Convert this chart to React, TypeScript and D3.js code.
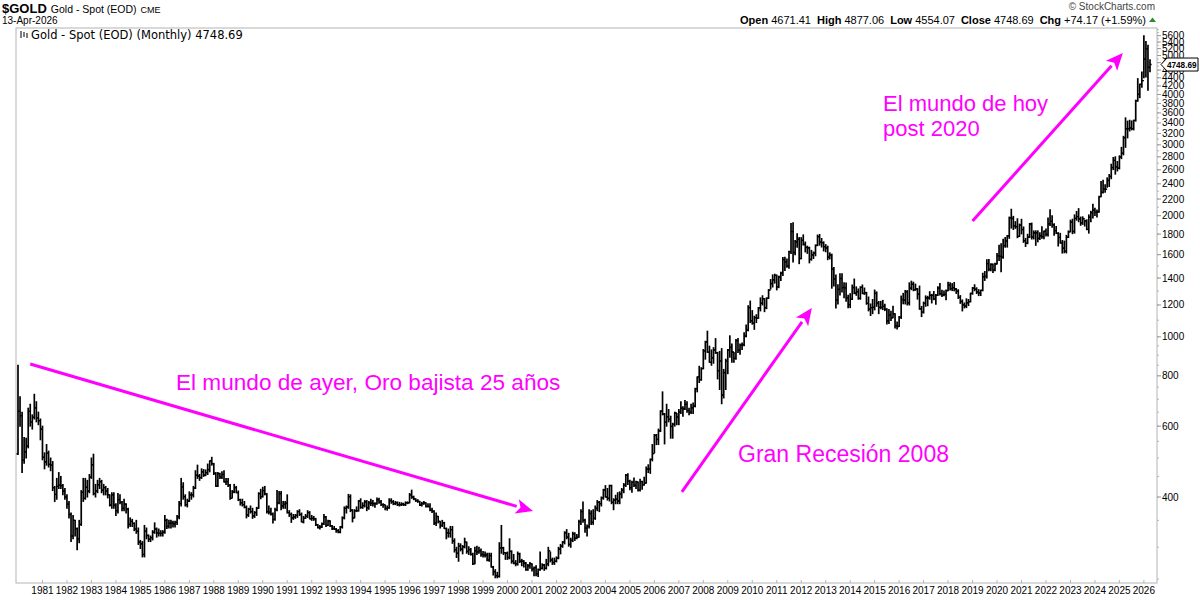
import React, { useEffect, useRef } from "react";
import * as d3 from "d3";

// monthly [high, low, close], one row per year
const bars1980s: [number, number, number][] = [
  // 1980
  [850, 510, 653], [710, 600, 637], [650, 460, 494], [562, 485, 518], [560, 500, 535], [665, 530, 653],
  [680, 600, 614], [640, 590, 631], [720, 625, 666], [690, 615, 629], [650, 605, 619], [625, 555, 590],
  // 1981
  [600, 495, 502], [515, 470, 489], [540, 480, 514], [520, 475, 482], [500, 465, 480], [490, 415, 422],
  [425, 390, 406], [445, 395, 425], [460, 420, 428], [450, 420, 427], [430, 405, 414], [420, 395, 400],
  // 1982
  [405, 375, 384], [390, 355, 362], [365, 310, 320], [360, 315, 350], [350, 320, 334], [335, 296, 315],
  [350, 308, 342], [415, 340, 411], [445, 390, 397], [445, 395, 423], [440, 400, 414], [455, 410, 448],
  // 1983
  [500, 445, 481], [511, 405, 408], [430, 400, 414], [440, 410, 429], [445, 420, 437], [440, 410, 416],
  [430, 405, 422], [425, 405, 414], [420, 398, 405], [405, 380, 382], [410, 375, 405], [410, 375, 382],
  // 1984
  [385, 360, 370], [408, 365, 394], [405, 385, 388], [390, 370, 375], [395, 370, 384], [385, 365, 373],
  [375, 335, 342], [355, 338, 348], [352, 338, 344], [345, 330, 333], [350, 325, 329], [335, 305, 309],
  // 1985
  [312, 298, 306], [310, 284, 288], [340, 284, 329], [335, 315, 321], [322, 310, 314], [320, 310, 317],
  [330, 313, 327], [345, 325, 333], [335, 318, 326], [333, 320, 325], [330, 320, 325], [330, 320, 327],
  // 1986
  [360, 325, 350], [352, 334, 338], [350, 335, 344], [350, 335, 345], [348, 337, 343], [348, 337, 346],
  [360, 342, 357], [390, 353, 385], [445, 380, 424], [434, 395, 401], [405, 380, 383], [395, 378, 391],
  // 1987
  [412, 390, 405], [410, 395, 405], [425, 400, 421], [465, 420, 453], [480, 445, 451], [455, 440, 447],
  [470, 445, 462], [468, 450, 453], [467, 452, 460], [483, 455, 468], [492, 462, 492], [502, 480, 484],
  // 1988
  [485, 455, 458], [460, 425, 426], [460, 425, 457], [458, 445, 449], [462, 445, 455], [465, 436, 436],
  [445, 430, 437], [445, 425, 428], [430, 395, 397], [415, 398, 412], [430, 410, 422], [425, 410, 410],
  // 1989
  [414, 392, 394], [395, 382, 387], [395, 380, 383], [390, 376, 377], [380, 355, 361], [375, 358, 373],
  [380, 365, 368], [375, 354, 359], [368, 356, 366], [377, 360, 375], [410, 375, 408], [418, 396, 401],
];

const bars1990s: [number, number, number][] = [
  // 1990
  [423, 400, 415], [425, 405, 407], [408, 365, 368], [380, 363, 367], [375, 361, 363], [365, 345, 352],
  [375, 350, 372], [415, 370, 387], [413, 385, 408], [413, 372, 380], [390, 375, 384], [390, 375, 386],
  // 1991
  [405, 365, 366], [370, 358, 362], [365, 346, 355], [362, 352, 357], [362, 354, 360], [370, 356, 368],
  [372, 360, 362], [365, 347, 347], [358, 345, 354], [362, 354, 358], [370, 356, 366], [368, 353, 353],
  // 1992
  [360, 350, 354], [358, 350, 353], [354, 340, 341], [342, 335, 336], [340, 333, 337], [345, 336, 343],
  [362, 342, 357], [358, 338, 340], [350, 340, 349], [349, 338, 339], [340, 332, 334], [338, 332, 333],
  // 1993
  [334, 327, 330], [332, 326, 327], [338, 326, 337], [357, 335, 355], [378, 353, 375], [380, 365, 378],
  [406, 375, 401], [405, 368, 371], [372, 347, 355], [372, 355, 370], [378, 368, 370], [392, 369, 391],
  // 1994
  [396, 375, 377], [387, 375, 381], [392, 378, 389], [392, 370, 376], [390, 373, 387], [395, 381, 386],
  [392, 380, 385], [387, 377, 385], [398, 384, 394], [397, 386, 389], [392, 381, 383], [385, 377, 383],
  // 1995
  [382, 372, 375], [380, 371, 376], [396, 375, 392], [396, 386, 389], [392, 383, 385], [390, 383, 387],
  [389, 381, 383], [388, 380, 383], [387, 381, 384], [386, 381, 383], [389, 381, 387], [389, 385, 387],
  // 1996
  [408, 387, 405], [416, 397, 400], [402, 394, 396], [396, 390, 392], [394, 388, 390], [390, 381, 382],
  [388, 380, 385], [390, 384, 387], [387, 378, 379], [385, 378, 379], [385, 370, 371], [375, 366, 369],
  // 1997
  [370, 342, 345], [365, 340, 358], [358, 345, 348], [348, 335, 340], [350, 338, 345], [346, 334, 334],
  [335, 315, 326], [333, 318, 325], [338, 318, 332], [338, 307, 311], [315, 292, 296], [300, 283, 290],
  // 1998
  [307, 277, 302], [306, 294, 297], [303, 289, 301], [316, 299, 309], [309, 290, 293], [301, 288, 296],
  [298, 287, 288], [290, 272, 273], [300, 273, 294], [302, 288, 292], [300, 290, 294], [297, 285, 288],
  // 1999
  [293, 284, 287], [292, 284, 287], [290, 278, 279], [290, 277, 286], [290, 268, 268], [269, 256, 261],
  [264, 252, 255], [260, 252, 254], [308, 253, 299], [340, 290, 299], [300, 288, 291], [291, 280, 290],
];

const bars2000s: [number, number, number][] = [
  // 2000
  [292, 280, 283], [315, 281, 293], [294, 274, 277], [288, 273, 274], [278, 270, 273], [292, 271, 289],
  [290, 275, 277], [280, 270, 277], [278, 268, 274], [275, 263, 264], [272, 263, 270], [275, 266, 273],
  // 2001
  [273, 262, 265], [268, 255, 267], [270, 255, 258], [265, 254, 264], [292, 263, 266], [273, 265, 271],
  [272, 263, 266], [280, 265, 273], [300, 270, 294], [292, 276, 279], [282, 272, 275], [282, 272, 277],
  // 2002
  [284, 276, 282], [300, 281, 297], [305, 289, 302], [310, 300, 309], [328, 306, 326], [332, 315, 318],
  [325, 302, 305], [316, 300, 312], [327, 310, 324], [326, 312, 316], [323, 315, 318], [350, 318, 347],
  // 2003
  [372, 342, 368], [389, 346, 350], [352, 327, 335], [341, 320, 338], [372, 335, 364], [370, 342, 346],
  [372, 342, 354], [380, 352, 375], [392, 370, 388], [390, 368, 385], [400, 380, 398], [418, 395, 416],
  // 2004
  [427, 400, 400], [420, 393, 397], [428, 391, 427], [428, 385, 388], [396, 372, 393], [404, 385, 395],
  [410, 385, 391], [412, 385, 407], [420, 398, 416], [432, 410, 428], [455, 425, 453], [457, 430, 438],
  // 2005
  [440, 417, 422], [438, 411, 435], [446, 425, 428], [438, 420, 436], [436, 414, 416], [443, 414, 437],
  [438, 418, 429], [448, 428, 433], [475, 433, 469], [481, 460, 470], [497, 458, 496], [540, 492, 513],
  // 2006
  [572, 515, 569], [572, 540, 556], [590, 540, 584], [655, 582, 654], [730, 640, 643], [645, 542, 614],
  [680, 600, 633], [660, 615, 624], [635, 560, 599], [610, 560, 606], [650, 600, 647], [645, 605, 632],
  // 2007
  [660, 605, 651], [690, 645, 665], [670, 635, 662], [695, 660, 680], [690, 650, 656], [665, 640, 650],
  [680, 645, 666], [685, 645, 673], [745, 670, 743], [795, 730, 795], [845, 770, 783], [838, 780, 834],
  // 2008
  [930, 833, 923], [975, 880, 971], [1033, 915, 916], [948, 865, 864], [928, 850, 887], [940, 860, 928],
  [990, 910, 913], [915, 786, 824], [920, 740, 871], [935, 682, 717], [830, 705, 815], [880, 740, 870],
  // 2009
  [930, 810, 928], [1006, 890, 942], [960, 865, 917], [915, 865, 884], [985, 880, 979], [990, 915, 926],
  [960, 905, 954], [965, 930, 955], [1024, 950, 1004], [1070, 1000, 1040], [1195, 1035, 1182], [1227, 1085, 1096],
];

const bars2010s: [number, number, number][] = [
  // 2010
  [1162, 1075, 1081], [1125, 1044, 1116], [1135, 1085, 1113], [1182, 1112, 1180], [1250, 1160, 1212], [1265, 1200, 1244],
  [1245, 1155, 1181], [1250, 1175, 1247], [1310, 1245, 1307], [1388, 1315, 1357], [1425, 1330, 1386], [1431, 1360, 1421],
  // 2011
  [1424, 1308, 1332], [1415, 1325, 1409], [1448, 1380, 1439], [1575, 1420, 1556], [1577, 1462, 1536], [1560, 1490, 1500],
  [1632, 1480, 1628], [1913, 1610, 1826], [1920, 1535, 1620], [1735, 1600, 1722], [1804, 1670, 1746], [1765, 1520, 1565],
  // 2012
  [1764, 1563, 1737], [1792, 1690, 1697], [1720, 1625, 1668], [1680, 1612, 1664], [1670, 1527, 1558], [1640, 1550, 1598],
  [1625, 1565, 1615], [1692, 1590, 1687], [1790, 1685, 1773], [1796, 1690, 1719], [1755, 1672, 1714], [1722, 1635, 1675],
  // 2013
  [1695, 1627, 1663], [1680, 1555, 1578], [1617, 1562, 1596], [1605, 1321, 1472], [1487, 1338, 1393], [1424, 1180, 1234],
  [1348, 1207, 1312], [1434, 1270, 1396], [1434, 1293, 1326], [1362, 1251, 1323], [1361, 1225, 1250], [1268, 1181, 1202],
  // 2014
  [1280, 1182, 1240], [1345, 1238, 1326], [1392, 1280, 1284], [1331, 1268, 1295], [1315, 1240, 1246], [1332, 1240, 1327],
  [1345, 1280, 1282], [1322, 1275, 1287], [1290, 1205, 1211], [1256, 1160, 1172], [1207, 1130, 1182], [1238, 1142, 1184],
  // 2015
  [1307, 1167, 1283], [1293, 1191, 1213], [1224, 1142, 1183], [1225, 1174, 1184], [1232, 1169, 1190], [1205, 1162, 1172],
  [1175, 1077, 1095], [1170, 1080, 1133], [1157, 1098, 1115], [1191, 1115, 1142], [1142, 1052, 1065], [1088, 1046, 1061],
  // 2016
  [1124, 1061, 1118], [1263, 1111, 1238], [1282, 1208, 1233], [1304, 1207, 1293], [1303, 1200, 1215], [1362, 1200, 1322],
  [1375, 1310, 1351], [1367, 1302, 1309], [1352, 1305, 1316], [1318, 1241, 1277], [1337, 1171, 1173], [1190, 1123, 1152],
  // 2017
  [1220, 1146, 1211], [1264, 1191, 1249], [1261, 1195, 1249], [1295, 1240, 1268], [1275, 1214, 1268], [1296, 1237, 1242],
  [1274, 1205, 1269], [1331, 1267, 1322], [1357, 1271, 1280], [1306, 1260, 1271], [1300, 1265, 1275], [1307, 1236, 1303],
  // 2018
  [1366, 1302, 1345], [1362, 1307, 1318], [1356, 1303, 1325], [1365, 1301, 1315], [1318, 1282, 1298], [1309, 1246, 1253],
  [1266, 1211, 1224], [1235, 1160, 1201], [1214, 1180, 1192], [1243, 1182, 1215], [1238, 1196, 1223], [1284, 1221, 1282],
  // 2019
  [1326, 1276, 1321], [1347, 1302, 1313], [1324, 1281, 1292], [1310, 1266, 1284], [1306, 1267, 1305], [1439, 1301, 1409],
  [1453, 1381, 1413], [1555, 1400, 1520], [1557, 1459, 1472], [1519, 1459, 1513], [1516, 1445, 1464], [1524, 1459, 1517],
];

const bars2020s: [number, number, number][] = [
  // 2020
  [1611, 1517, 1589], [1689, 1548, 1585], [1704, 1451, 1577], [1747, 1568, 1686], [1765, 1670, 1730], [1785, 1671, 1781],
  [1984, 1757, 1975], [2075, 1863, 1968], [1992, 1848, 1886], [1933, 1860, 1879], [1965, 1764, 1776], [1906, 1776, 1895],
  // 2021
  [1959, 1802, 1848], [1875, 1717, 1734], [1756, 1677, 1708], [1798, 1704, 1769], [1913, 1766, 1907], [1917, 1750, 1771],
  [1833, 1751, 1814], [1834, 1688, 1814], [1834, 1722, 1757], [1814, 1746, 1783], [1877, 1759, 1775], [1831, 1753, 1829],
  // 2022
  [1853, 1780, 1797], [1974, 1780, 1909], [2070, 1890, 1937], [1998, 1872, 1897], [1910, 1787, 1837], [1880, 1805, 1807],
  [1815, 1681, 1766], [1808, 1709, 1711], [1735, 1615, 1661], [1729, 1618, 1633], [1787, 1616, 1768], [1833, 1765, 1824],
  // 2023
  [1949, 1823, 1928], [1960, 1804, 1827], [2009, 1810, 1969], [2049, 1949, 1990], [2082, 1932, 1963], [1984, 1893, 1919],
  [1987, 1903, 1965], [1949, 1885, 1940], [1953, 1846, 1849], [2009, 1810, 1983], [2052, 1931, 2036], [2135, 1974, 2063],
  // 2024
  [2088, 2002, 2039], [2065, 1984, 2044], [2234, 2039, 2230], [2432, 2228, 2286], [2450, 2277, 2327], [2387, 2286, 2327],
  [2483, 2353, 2447], [2531, 2364, 2503], [2685, 2471, 2634], [2790, 2603, 2744], [2801, 2536, 2643], [2726, 2583, 2625],
  // 2025
  [2817, 2614, 2798], [2956, 2772, 2858], [3149, 2833, 3124], [3500, 2957, 3289], [3435, 3121, 3289], [3452, 3247, 3303],
  [3439, 3268, 3290], [3454, 3268, 3448], [3872, 3436, 3858], [4381, 3850, 4003], [4245, 3928, 4239], [4550, 4170, 4330],
  // 2026
  [5595, 4400, 4900], [5420, 4420, 5200], [5300, 4100, 4674.52], [4877.06, 4554.07, 4748.69],
];

const firstOpen = 512;
const lastOpen = 4671.41;

const yearLabels = [
  "1981", "1982", "1983", "1984", "1985", "1986", "1987", "1988", "1989", "1990",
  "1991", "1992", "1993", "1994", "1995", "1996", "1997", "1998", "1999", "2000",
  "2001", "2002", "2003", "2004", "2005", "2006", "2007", "2008", "2009", "2010",
  "2011", "2012", "2013", "2014", "2015", "2016", "2017", "2018", "2019", "2020",
  "2021", "2022", "2023", "2024", "2025", "2026",
];

const priceTicks = [
  400, 600, 800, 1000, 1200, 1400, 1600, 1800, 2000, 2200, 2400, 2600, 2800, 3000,
  3200, 3400, 3600, 3800, 4000, 4200, 4400, 4600, 4800, 5000, 5200, 5400, 5600,
];

const quote = [
  { label: "Open", value: "4671.41" },
  { label: "High", value: "4877.06" },
  { label: "Low", value: "4554.07" },
  { label: "Close", value: "4748.69" },
  { label: "Chg", value: "+74.17 (+1.59%)" },
];

const notes = [
  { lines: ["El mundo de ayer, Oro bajista 25 años"], x: 176, y: 390, size: 22.6 },
  { lines: ["Gran Recesión 2008"], x: 738, y: 462, size: 23 },
  { lines: ["El mundo de hoy", "post 2020"], x: 883, y: 111, size: 22 },
];

// arrows given as [from month, from price, to month, to price]
const arrows = [
  [6, 856, 252.5, 369],
  [325.5, 412, 389.2, 1180],
  [468, 1940, 541.7, 5073],
];

const W = 1200;
const H = 600;
const plot = { left: 16, right: 1157, top: 28, bottom: 583 };
const MAGENTA = "#ff00ff";
const SANS = "'Liberation Sans', Arial, sans-serif";

const App = () => {
  const svgRef = useRef(null);

  useEffect(() => {
    document.body.style.margin = "0";
    const svg = d3.select(svgRef.current);
    svg.selectAll("*").remove();

    const bars = [...bars1980s, ...bars1990s, ...bars2000s, ...bars2010s, ...bars2020s].map((b, i, all) => ({
      i,
      high: b[0],
      low: b[1],
      close: b[2],
      open: i === 0 ? firstOpen : i === all.length - 1 ? lastOpen : all[i - 1][2],
    }));

    const x = d3.scaleLinear().domain([0, 555]).range([18, 1150]);
    const y = d3.scaleLog().domain([244.6, 5852]).range([plot.bottom, plot.top]);

    svg.append("rect").attr("width", W).attr("height", H).attr("fill", "#fff");

    // header
    const head = svg.append("g").attr("font-family", SANS).attr("fill", "#000");
    const t1 = head.append("text").attr("x", 2).attr("y", 13);
    t1.append("tspan").attr("font-size", 13).attr("font-weight", "bold").text("$GOLD");
    t1.append("tspan").attr("font-size", 10.5).attr("dx", 4).text("Gold - Spot (EOD)");
    t1.append("tspan").attr("font-size", 9).attr("dx", 4).text("CME");
    head.append("text").attr("x", 2).attr("y", 24).attr("font-size", 10).text("13-Apr-2026");
    head.append("text")
      .attr("x", 1155).attr("y", 10).attr("text-anchor", "end")
      .attr("font-size", 10).attr("fill", "#444")
      .text("© StockCharts.com");
    const q = head.append("text").attr("x", 1146).attr("y", 24).attr("text-anchor", "end").attr("font-size", 11);
    quote.forEach((d, k) => {
      q.append("tspan").attr("font-weight", "bold").attr("dx", k === 0 ? 0 : 6).text(d.label);
      q.append("tspan").attr("dx", 3).text(d.value);
    });
    head.append("path").attr("d", "M1149,22 L1156,22 L1152.5,17.5 Z").attr("fill", "#2e8b2e");

    // frame
    svg.append("rect")
      .attr("x", plot.left).attr("y", plot.top)
      .attr("width", plot.right - plot.left).attr("height", plot.bottom - plot.top)
      .attr("fill", "none").attr("stroke", "#b4b4b4");

    // legend
    const lg = svg.append("g");
    [21, 24, 27].forEach((lx, k) => {
      lg.append("line").attr("x1", lx).attr("x2", lx).attr("y1", 31 + k).attr("y2", 38 - k % 2)
        .attr("stroke", "#000").attr("stroke-width", 1);
    });
    lg.append("text").attr("x", 31).attr("y", 38.5).attr("font-family", "'DejaVu Sans', Verdana, sans-serif")
      .attr("font-size", 11.5).text("Gold - Spot (EOD) (Monthly) 4748.69");

    // y axis
    const ax = svg.append("g").attr("font-family", SANS).attr("font-size", 10);
    const minor = [...d3.range(250, 1000, 50), ...d3.range(1000, 5801, 100)];
    ax.selectAll(".minor").data(minor).join("line").attr("class", "minor")
      .attr("x1", plot.right).attr("x2", plot.right + 2)
      .attr("y1", (d) => y(d)).attr("y2", (d) => y(d))
      .attr("stroke", "#b4b4b4");
    ax.selectAll(".major").data(priceTicks).join("line").attr("class", "major")
      .attr("x1", plot.right).attr("x2", plot.right + 4)
      .attr("y1", (d) => y(d)).attr("y2", (d) => y(d))
      .attr("stroke", "#999");
    ax.selectAll(".ylab").data(priceTicks).join("text").attr("class", "ylab")
      .attr("x", 1162).attr("y", (d) => y(d) + 3.5).text((d) => d);

    // x axis
    const xa = svg.append("g").attr("font-family", SANS).attr("font-size", 10);
    xa.selectAll("line").data(yearLabels).join("line")
      .attr("x1", (d, k) => x((k + 1) * 12)).attr("x2", (d, k) => x((k + 1) * 12))
      .attr("y1", plot.bottom).attr("y2", plot.bottom - 3)
      .attr("stroke", "#b4b4b4");
    xa.selectAll("text").data(yearLabels).join("text")
      .attr("x", (d, k) => x((k + 1) * 12)).attr("y", 594)
      .attr("text-anchor", "middle").text((d) => d);

    // ohlc bars
    const g = svg.append("g").attr("stroke", "#000");
    g.selectAll(".hl").data(bars).join("line").attr("class", "hl")
      .attr("x1", (d) => x(d.i)).attr("x2", (d) => x(d.i))
      .attr("y1", (d) => y(d.high) - 0.5).attr("y2", (d) => y(d.low) + 0.5)
      .attr("stroke-width", 1.7);
    g.selectAll(".op").data(bars).join("line").attr("class", "op")
      .attr("x1", (d) => x(d.i) - 1.6).attr("x2", (d) => x(d.i))
      .attr("y1", (d) => y(d.open)).attr("y2", (d) => y(d.open))
      .attr("stroke-width", 1.3);
    g.selectAll(".cl").data(bars).join("line").attr("class", "cl")
      .attr("x1", (d) => x(d.i)).attr("x2", (d) => x(d.i) + 1.6)
      .attr("y1", (d) => y(d.close)).attr("y2", (d) => y(d.close))
      .attr("stroke-width", 1.3);

    // last price tag
    const last = bars[bars.length - 1];
    const ly = y(last.close);
    svg.append("path")
      .attr("d", `M1161,${ly} L1167,${ly - 6.5} L1198,${ly - 6.5} L1198,${ly + 6.5} L1167,${ly + 6.5} Z`)
      .attr("fill", "#fff").attr("stroke", "#000");
    svg.append("text").attr("x", 1167).attr("y", ly + 3.6)
      .attr("font-family", SANS).attr("font-size", 9.5).attr("font-weight", "bold")
      .attr("textLength", 29.5).attr("lengthAdjust", "spacingAndGlyphs")
      .text(last.close.toFixed(2));

    // annotations
    const an = svg.append("g");
    arrows.forEach(([m0, p0, m1, p1]) => {
      const x0 = x(m0), y0 = y(p0), x1 = x(m1), y1 = y(p1);
      const ang = Math.atan2(y1 - y0, x1 - x0);
      const len = 17, half = 7.5;
      const bx = x1 - len * Math.cos(ang), by = y1 - len * Math.sin(ang);
      an.append("line").attr("x1", x0).attr("y1", y0).attr("x2", bx).attr("y2", by)
        .attr("stroke", MAGENTA).attr("stroke-width", 3);
      const px = -Math.sin(ang) * half, py = Math.cos(ang) * half;
      an.append("path")
        .attr("d", `M${x1},${y1} L${bx + px},${by + py} L${bx + 4 * Math.cos(ang)},${by + 4 * Math.sin(ang)} L${bx - px},${by - py} Z`)
        .attr("fill", MAGENTA);
    });
    notes.forEach((n) => {
      const t = an.append("text").attr("font-family", SANS).attr("font-size", n.size).attr("fill", MAGENTA);
      n.lines.forEach((line, k) => {
        t.append("tspan").attr("x", n.x).attr("y", n.y + k * 25).text(line);
      });
    });
  }, []);

  return <svg ref={svgRef} width={W} height={H} style={{ display: "block" }} />;
};

export default App;
